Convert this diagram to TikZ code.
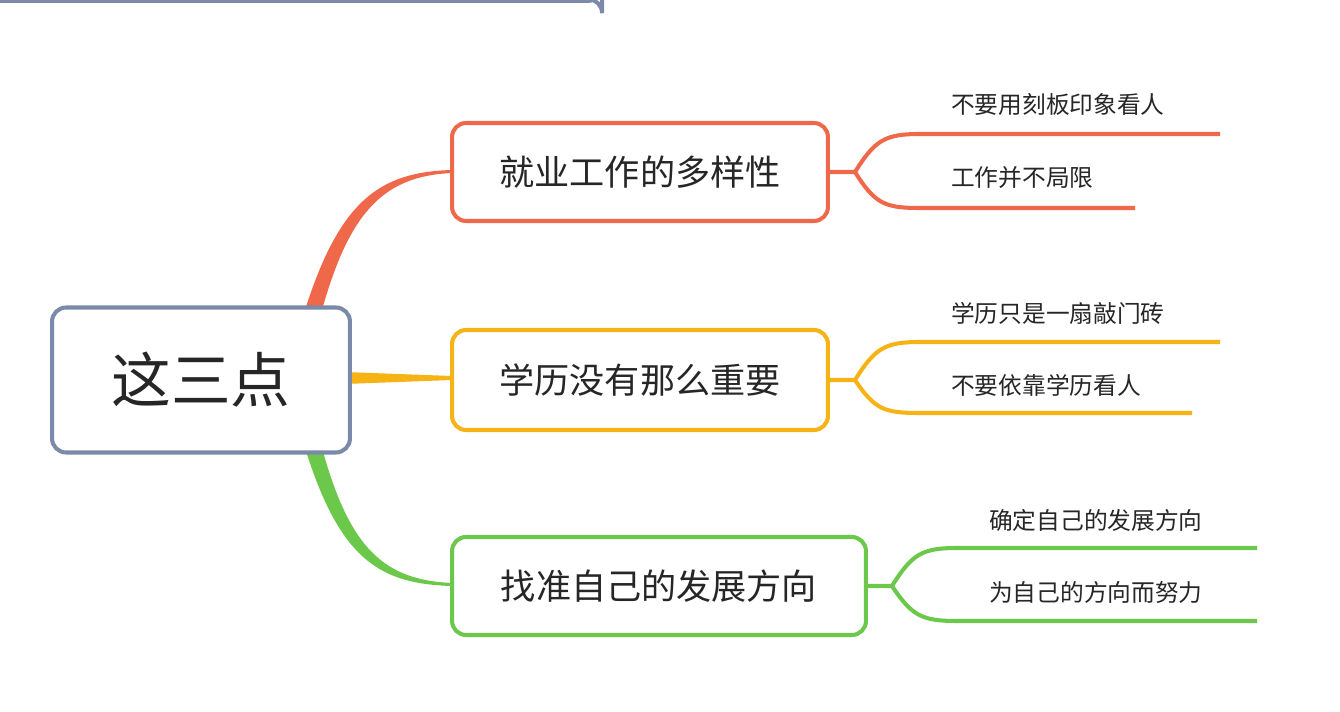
\documentclass[tikz,border=0pt]{standalone}
\usepackage{fontspec}
\setmainfont{Noto Sans CJK SC}
\begin{document}
\begin{tikzpicture}[x=0.02cm,y=-0.02cm,
  box/.style={draw,line width=2.3pt,rounded corners=8pt,fill=white,inner sep=0pt},
  leaf/.style={anchor=west,font=\fontsize{13.5}{15}\selectfont,text=black!85},
  mid/.style={font=\fontsize{20}{22}\selectfont,text=black!85}]
\definecolor{cr}{HTML}{F0684A}\definecolor{cy}{HTML}{F5B316}
\definecolor{cg}{HTML}{6CC84A}\definecolor{cb}{HTML}{7A8AA8}
\fill[white] (0,0) rectangle (1340,712);
\useasboundingbox (0,0) rectangle (1340,712);
% tapered connectors
\fill[cr] (305,310) .. controls (340,200) and (380,172) .. (452,170) -- (452,173) .. controls (385,176) and (350,210) .. (322,310) -- cycle;
\fill[cy] (345,372) -- (452,376) -- (452,380) -- (345,384) -- cycle;
\fill[cg] (305,448) .. controls (340,560) and (380,584) .. (452,586) -- (452,583) .. controls (385,580) and (350,550) .. (322,448) -- cycle;
\node[box,draw=cb,minimum width=298\pgflinewidth,text width=0pt] at (0,0) {};
\node[box,draw=cb,minimum width=5.96cm,minimum height=2.9cm,font=\fontsize{34}{36}\selectfont,text=black!85] (root) at (201,380) {这三点};
\node[box,draw=cr,minimum width=7.52cm,minimum height=1.96cm,mid] (b1) at (640,172) {就业工作的多样性};
\node[box,draw=cy,minimum width=7.52cm,minimum height=2.0cm,mid] (b2) at (640,380) {学历没有那么重要};
\node[box,draw=cg,minimum width=8.28cm,minimum height=1.96cm,mid] (b3) at (659,586) {找准自己的发展方向};
% leaf lines
\begin{scope}[line width=2.3pt]
\draw[cr] (b1.east) -- (855,172) .. controls (875,140) and (885,134) .. (920,134) -- (1220,134);
\draw[cr] (855,172) .. controls (875,204) and (885,208) .. (920,208) -- (1135,208);
\draw[cy] (b2.east) -- (855,380) .. controls (875,348) and (885,342) .. (920,342) -- (1220,342);
\draw[cy] (855,380) .. controls (875,410) and (885,413) .. (920,413) -- (1192,413);
\draw[cg] (b3.east) -- (892,586) .. controls (912,554) and (922,548) .. (957,548) -- (1257,548);
\draw[cg] (892,586) .. controls (912,616) and (922,621) .. (957,621) -- (1257,621);
\end{scope}
\node[leaf] (l1) at (945,104) {不要用刻板印象看人};
\node[leaf] (l2) at (945,178) {工作并不局限};
\node[leaf] (l3) at (945,313) {学历只是一扇敲门砖};
\node[leaf] (l4) at (945,385) {不要依靠学历看人};
\node[leaf] (l5) at (983,520) {确定自己的发展方向};
\node[leaf] (l6) at (983,592) {为自己的方向而努力};
\end{tikzpicture}
\end{document}
